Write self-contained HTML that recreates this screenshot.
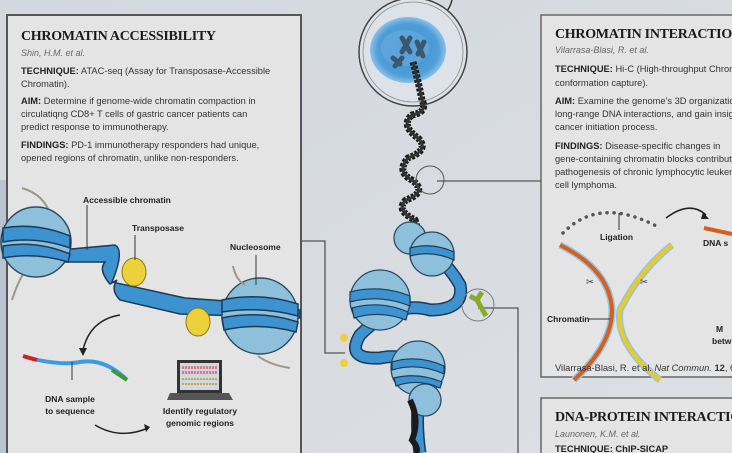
<!DOCTYPE html>
<html><head><meta charset="utf-8"><style>
html,body{margin:0;padding:0;width:732px;height:453px;overflow:hidden;background:#d7dbe0}
svg{display:block}
.t{font-family:"Liberation Serif",serif;font-weight:bold;font-size:14px;fill:#1a1a1a;letter-spacing:-0.3px}
.b{font-family:"Liberation Sans",sans-serif;font-size:9.3px;fill:#333}
.bb{font-weight:bold;fill:#222}
.i{font-family:"Liberation Sans",sans-serif;font-style:italic;font-size:9px;fill:#666}
.l{font-family:"Liberation Sans",sans-serif;font-weight:bold;font-size:8.5px;fill:#222}
</style></head><body>
<svg width="732" height="453" viewBox="0 0 732 453" xmlns="http://www.w3.org/2000/svg">
<defs>
<linearGradient id="bg" x1="0" y1="0" x2="1" y2="1"><stop offset="0" stop-color="#d3d8de"/><stop offset="1" stop-color="#dcdfe3"/></linearGradient>
<radialGradient id="nuc" cx="0.5" cy="0.5" r="0.5"><stop offset="0" stop-color="#3f8fce"/><stop offset="0.8" stop-color="#4f9ed8"/><stop offset="1" stop-color="#8cc0e6"/></radialGradient>
</defs>
<rect width="732" height="453" fill="url(#bg)"/>
<rect x="0" y="180" width="8" height="273" fill="#b9c3cf"/>
<!-- left panel -->
<rect x="7" y="15" width="294" height="450" fill="#e4e4e4" stroke="#555" stroke-width="2"/>
<text class="t" x="21" y="40">CHROMATIN ACCESSIBILITY</text>
<text class="i" x="21" y="56">Shin, H.M. et al.</text>
<text class="b" x="21" y="74"><tspan class="bb">TECHNIQUE:</tspan> ATAC-seq (Assay for Transposase-Accessible</text>
<text class="b" x="21" y="87">Chromatin).</text>
<text class="b" x="21" y="104"><tspan class="bb">AIM:</tspan> Determine if genome-wide chromatin compaction in</text>
<text class="b" x="21" y="117">circulatiqng CD8+ T cells of gastric cancer patients can</text>
<text class="b" x="21" y="130">predict response to immunotherapy.</text>
<text class="b" x="21" y="148"><tspan class="bb">FINDINGS:</tspan> PD-1 immunotherapy responders had unique,</text>
<text class="b" x="21" y="161">opened regions of chromatin, unlike non-responders.</text>
<!-- left illustration -->
<path d="M22 188 Q45 195 50 215" stroke="#998" stroke-width="2" fill="none"/>
<path d="M30 265 Q20 275 12 300" stroke="#998" stroke-width="2" fill="none"/>
<path d="M60 250 L115 245 Q125 250 112 282 L185 298 L240 302 L300 310 L300 318 L240 316 L180 314 L120 300 Q110 290 117 280 L110 284 Q98 270 105 262 L60 262Z" fill="#3d92d0" stroke="#1c3a55" stroke-width="1.5"/>
<circle cx="36" cy="242" r="35" fill="#8ec0dc" stroke="#2b4c63" stroke-width="1.5"/>
<path d="M3 228 Q36 222 70 236 L70 248 Q36 236 3 242Z M3 246 Q36 240 70 254 L68 262 Q36 252 3 258Z" fill="#3d92d0" stroke="#1c3a55" stroke-width="1.5"/>
<circle cx="260" cy="316" r="38" fill="#8ec0dc" stroke="#2b4c63" stroke-width="1.5"/>
<path d="M222 300 Q260 292 298 304 L298 316 Q260 306 222 312Z M222 318 Q260 310 298 322 L296 332 Q260 322 224 330Z" fill="#3d92d0" stroke="#1c3a55" stroke-width="1.5"/>
<path d="M233 266 Q236 280 245 285" stroke="#998" stroke-width="2" fill="none"/>
<path d="M258 356 Q270 365 290 368" stroke="#998" stroke-width="2" fill="none"/>
<ellipse cx="134" cy="272" rx="12" ry="14" fill="#ecd13a" stroke="#8a7a10"/>
<ellipse cx="198" cy="322" rx="12" ry="14" fill="#ecd13a" stroke="#8a7a10"/>
<line x1="87" y1="205" x2="87" y2="250" stroke="#333"/>
<line x1="135" y1="235" x2="135" y2="260" stroke="#333"/>
<line x1="256" y1="255" x2="256" y2="285" stroke="#333"/>
<text class="l" x="83" y="203">Accessible chromatin</text>
<text class="l" x="132" y="231">Transposase</text>
<text class="l" x="230" y="250">Nucleosome</text>
<path d="M120 315 Q90 320 83 350" stroke="#222" stroke-width="1.5" fill="none"/>
<path d="M79 348 L83 356 L87 348Z" fill="#222"/>
<path d="M25 357 Q60 366 80 362 Q105 358 127 380" stroke="#3d9be0" stroke-width="4" fill="none"/>
<path d="M23 356 L37 360" stroke="#d02020" stroke-width="4"/>
<path d="M112 370 L127 380" stroke="#3a9a40" stroke-width="4"/>
<line x1="72" y1="362" x2="72" y2="380" stroke="#333"/>
<text class="l" x="70" y="402" text-anchor="middle">DNA sample</text>
<text class="l" x="70" y="414" text-anchor="middle">to sequence</text>
<path d="M95 425 Q120 440 148 428" stroke="#222" stroke-width="1.5" fill="none"/>
<path d="M144 424 L150 427 L146 432Z" fill="#222"/>
<rect x="177" y="360" width="45" height="33" fill="#333"/>
<rect x="180" y="363" width="39" height="27" fill="#cfd9e6"/>
<g stroke-width="2.2">
<path d="M183 366v9M186 366v9M189 366v9M192 366v9M195 366v9M198 366v9M201 366v9M204 366v9M207 366v9M210 366v9M213 366v9M216 366v9" stroke="#d88080" stroke-dasharray="3 2"/>
<path d="M183 378v9M186 378v9M189 378v9M192 378v9M195 378v9M198 378v9M201 378v9M204 378v9M207 378v9M210 378v9M213 378v9M216 378v9" stroke="#c9a850" stroke-dasharray="2 3"/>
</g>
<path d="M170 393 L229 393 L233 400 L167 400Z" fill="#555"/>
<text class="l" x="200" y="414" text-anchor="middle">Identify regulatory</text>
<text class="l" x="200" y="426" text-anchor="middle">genomic regions</text>
<!-- connectors -->
<path d="M301 241 H325 V353 H345" stroke="#555" stroke-width="1.3" fill="none"/>
<path d="M437 181 H541" stroke="#555" stroke-width="1.3" fill="none"/>
<path d="M478 308 H518 V453" stroke="#555" stroke-width="1.3" fill="none"/>
<!-- cell -->
<path d="M452 0 Q450 8 446 12" stroke="#222" stroke-width="1.3" fill="none"/>
<circle cx="413" cy="52" r="54" fill="#dde2e8" stroke="#444" stroke-width="1.5"/>
<circle cx="413" cy="52" r="50" fill="none" stroke="#888" stroke-width="0.8"/>
<ellipse cx="408" cy="50" rx="38" ry="33" fill="url(#nuc)"/>
<ellipse cx="405" cy="48" rx="24" ry="18" fill="#6aaee0" opacity="0.6"/>
<g stroke="#3a5870" stroke-width="5" stroke-linecap="round">
<path d="M402 38 L410 52 M410 38 L402 52"/><path d="M417 42 L423 56 M424 42 L418 54"/><path d="M393 58 L400 64 M395 66 L402 58"/>
</g>
<!-- chromatin coil -->
<path d="M413 62 Q418 80 422 100 Q428 112 412 115 Q400 125 418 138 Q430 150 408 158 Q396 172 412 180 Q428 192 406 200 Q395 210 415 220 Q420 232 410 240" stroke="#1a1a1a" stroke-width="7" fill="none" stroke-dasharray="3 1.5"/>
<path d="M413 62 Q418 80 422 100 Q428 112 412 115 Q400 125 418 138 Q430 150 408 158 Q396 172 412 180 Q428 192 406 200 Q395 210 415 220 Q420 232 410 240" stroke="#333" stroke-width="3" fill="none"/>
<circle cx="430" cy="180" r="14" fill="none" stroke="#555" stroke-width="1"/>
<!-- nucleosome fiber -->
<path d="M405 240 Q440 250 460 285 Q465 310 430 310 Q395 300 360 335 Q345 360 380 358 Q420 350 420 390 Q415 420 420 453" stroke="#1c3a55" stroke-width="13" fill="none"/>
<path d="M405 240 Q440 250 460 285 Q465 310 430 310 Q395 300 360 335 Q345 360 380 358 Q420 350 420 390 Q415 420 420 453" stroke="#3d92d0" stroke-width="10" fill="none"/>
<g fill="#8ec0dc" stroke="#2b4c63" stroke-width="1.3">
<circle cx="410" cy="238" r="16"/><circle cx="432" cy="254" r="22"/><circle cx="380" cy="300" r="30"/><circle cx="418" cy="368" r="27"/><circle cx="425" cy="400" r="16"/>
</g>
<g fill="#3d92d0" stroke="#1c3a55" stroke-width="1.2">
<path d="M410 248 Q432 242 454 252 L454 260 Q432 250 410 256Z"/>
<path d="M350 292 Q380 284 410 296 L410 306 Q380 294 350 302Z M352 308 Q380 300 408 312 L406 320 Q380 310 354 318Z"/>
<path d="M392 362 Q418 354 444 366 L444 374 Q418 362 392 370Z M394 378 Q418 372 442 382 L440 388 Q418 378 396 386Z"/>
</g>
<path d="M410 400 Q420 420 412 440 Q420 450 415 453" stroke="#1a1a1a" stroke-width="6" fill="none"/>
<circle cx="478" cy="305" r="16" fill="none" stroke="#777"/>
<path d="M477 300 L470 296 M477 300 L482 292 M477 300 L486 316" stroke="#86aa2a" stroke-width="5" fill="none"/>
<circle cx="344" cy="338" r="4" fill="#ecd13a"/><circle cx="344" cy="363" r="4" fill="#ecd13a"/>
<!-- right top panel -->
<rect x="541" y="15" width="200" height="362" fill="#e4e4e4" stroke="#666" stroke-width="1.5"/>
<text class="t" x="555" y="38">CHROMATIN INTERACTIONS</text>
<text class="i" x="555" y="53">Vilarrasa-Blasi, R. et al.</text>
<text class="b" x="555" y="72"><tspan class="bb">TECHNIQUE:</tspan> Hi-C (High-throughput Chromosome</text>
<text class="b" x="555" y="86">conformation capture).</text>
<text class="b" x="555" y="104"><tspan class="bb">AIM:</tspan> Examine the genome's 3D organization,</text>
<text class="b" x="555" y="117">long-range DNA interactions, and gain insight</text>
<text class="b" x="555" y="130">cancer initiation process.</text>
<text class="b" x="555" y="149"><tspan class="bb">FINDINGS:</tspan> Disease-specific changes in</text>
<text class="b" x="555" y="162">gene-containing chromatin blocks contribute</text>
<text class="b" x="555" y="175">pathogenesis of chronic lymphocytic leukemia</text>
<text class="b" x="555" y="188">cell lymphoma.</text>
<path d="M563 233 Q600 195 660 228" stroke="#555" stroke-width="3.5" fill="none" stroke-dasharray="0.1 7" stroke-linecap="round"/>
<line x1="619" y1="213" x2="619" y2="230" stroke="#333"/>
<text class="l" x="600" y="240">Ligation</text>
<path d="M666 218 Q690 200 706 215" stroke="#222" stroke-width="1.5" fill="none"/>
<path d="M703 212 L709 219 L701 219Z" fill="#222"/>
<path d="M704 228 L732 234" stroke="#d85d1a" stroke-width="4"/>
<text class="l" x="703" y="246">DNA s</text>
<path d="M560 245 Q610 270 612 310 Q612 345 574 380" stroke="#8fc6e6" stroke-width="7" fill="none"/>
<path d="M560 245 Q610 270 612 310 Q612 345 574 380" stroke="#d95e1a" stroke-width="4" fill="none"/>
<path d="M672 245 Q640 270 620 310 Q615 345 660 380" stroke="#8fc6e6" stroke-width="7" fill="none"/>
<path d="M672 245 Q640 270 620 310 Q615 345 660 380" stroke="#ecc925" stroke-width="4" fill="none"/>
<text class="b" x="586" y="285" font-size="12">✂</text><text class="b" x="640" y="285" font-size="12">✂</text>
<text class="l" x="547" y="322">Chromatin</text>
<line x1="588" y1="319" x2="610" y2="319" stroke="#333"/>
<text class="l" x="716" y="332">M</text><text class="l" x="712" y="344">betw</text>
<text class="b" x="555" y="371" font-size="8">Vilarrasa-Blasi, R. et al. <tspan font-style="italic">Nat Commun.</tspan> <tspan font-weight="bold">12</tspan>, 651 (2021)</text>
<!-- right bottom panel -->
<rect x="541" y="398" width="200" height="70" fill="#e4e4e4" stroke="#666" stroke-width="1.5"/>
<text class="t" x="555" y="421">DNA-PROTEIN INTERACTIONS</text>
<text class="i" x="555" y="437">Launonen, K.M. et al.</text>
<text class="b bb" x="555" y="452">TECHNIQUE: ChIP-SICAP</text>
</svg>
</body></html>
